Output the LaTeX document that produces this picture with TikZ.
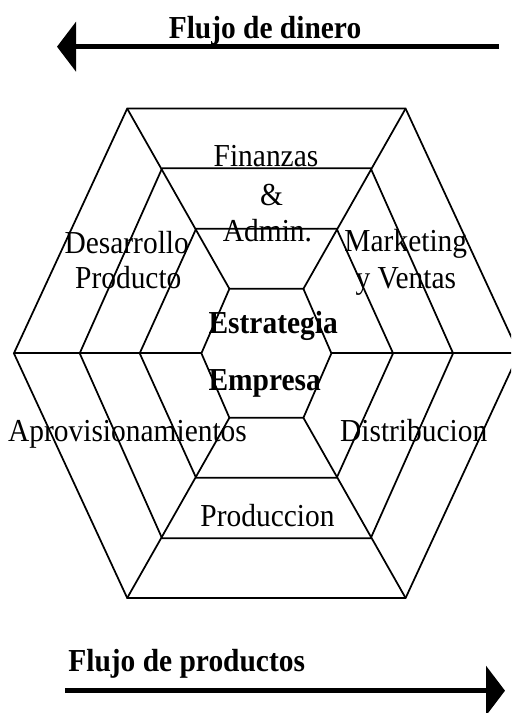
\documentclass[tikz,border=0pt]{standalone}
\usepackage{fontspec}
\setmainfont{Liberation Serif}[FakeStretch=0.92]
\usetikzlibrary{arrows.meta}
\begin{document}
\begin{tikzpicture}[x=0.75pt,y=-0.75pt,
  hex/.style={line width=1.3pt, line join=miter},
  lbl/.style={font=\fontsize{24}{28}\selectfont, anchor=base, inner sep=0pt},
  blbl/.style={lbl, font=\fontsize{24}{28}\selectfont\bfseries},
  flow/.style={line width=4.1pt, -{Triangle[length=14.25pt,width=36.75pt]}}]
\useasboundingbox (0,0) rectangle (511,713);
\clip (0,0) rectangle (511,713);
% hexagon vertices: a top-left, b top-right, c right, d bottom-right, e bottom-left, f left
\foreach \i/\t/\w/\h in {1/37/65/64.5, 2/70.3/126.7/124.5, 3/104.3/186.7/185, 4/139.2/252.5/244.7} {
  \coordinate (h\i a) at (266.4-\t, 353.3-\h);
  \coordinate (h\i b) at (266.4+\t, 353.3-\h);
  \coordinate (h\i c) at (266.4+\w, 353.3);
  \coordinate (h\i d) at (266.4+\t, 353.3+\h);
  \coordinate (h\i e) at (266.4-\t, 353.3+\h);
  \coordinate (h\i f) at (266.4-\w, 353.3);
}
\foreach \i in {1,2,3,4} {
  \draw[hex] (h\i a) -- (h\i b) -- (h\i c) -- (h\i d) -- (h\i e) -- (h\i f) -- cycle;
}
\foreach \v in {a,b,c,d,e,f} {
  \draw[hex] (h1\v) -- (h4\v);
}
% flows
\coordinate (m1) at (499,46.7);
\coordinate (m2) at (57,46.7);
\draw[flow] (m1) -- (m2);
\coordinate (p1) at (65,690.7);
\coordinate (p2) at (505,690.7);
\draw[flow] (p1) -- (p2);
\node[blbl] (fd) at (265,38.3) {Flujo de dinero};
\node[blbl] (fp) at (186.7,671.7) {Flujo de productos};
% labels
\node[lbl] (fin) at (266,166.7) {Finanzas};
\node[lbl] (amp) at (271.5,205) {\&};
\node[lbl] (adm) at (267.5,241) {Admin.};
\node[lbl] (des) at (126.7,253.3) {Desarrollo};
\node[lbl] (pro) at (128.3,288) {Producto};
\node[lbl] (mkt) at (405.8,251.7) {Marketing};
\node[lbl] (ven) at (405.8,288.3) {y Ventas};
\node[blbl, anchor=base west] (est) at (208.3,333.3) {Estrategia};
\node[blbl, anchor=base west] (emp) at (208.3,390) {Empresa};
\node[lbl] (apr) at (127.5,441.7) {Aprovisionamientos};
\node[lbl] (dis) at (413.7,441) {Distribucion};
\node[lbl] (prd) at (267.5,526.7) {Produccion};
\end{tikzpicture}
\end{document}
